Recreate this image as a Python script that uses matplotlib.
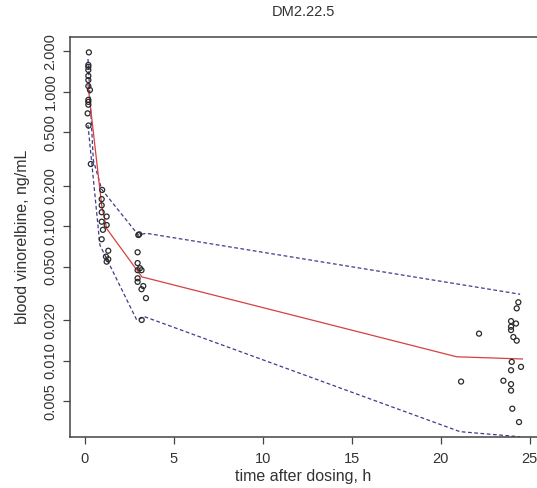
import numpy as np
import matplotlib
matplotlib.use('Agg')
import matplotlib.pyplot as plt
from matplotlib.ticker import FixedLocator, FixedFormatter

# observed concentrations (time h, ng/mL)
obs_time = [0.22, 0.19, 0.19, 0.19, 0.19, 0.19, 0.19, 0.28, 0.19, 0.19, 0.19, 0.15, 0.2, 0.33,
            0.97, 0.94, 0.94, 0.94, 1.22, 0.94, 1.22, 1.01, 0.94, 1.31, 1.18, 1.31, 1.22,
            3.0, 3.05, 2.96, 2.96, 3.09, 3.18, 2.96, 2.96, 2.96, 3.28, 3.18, 3.43, 3.19,
            24.37, 24.28, 23.96, 24.24, 23.96, 23.96, 24.09, 24.28, 22.16, 24.0, 24.52,
            23.96, 21.15, 23.53, 23.96, 23.96, 24.03, 24.41]
obs_conc = [1.96, 1.58, 1.53, 1.45, 1.31, 1.22, 1.10, 1.03, 0.87, 0.84, 0.80, 0.69, 0.56, 0.29,
            0.186, 0.159, 0.143, 0.127, 0.118, 0.108, 0.102, 0.094, 0.080, 0.0657, 0.0594, 0.0568, 0.0545,
            0.086, 0.087, 0.064, 0.0532, 0.0487, 0.0471, 0.0471, 0.041, 0.0386, 0.0359, 0.034, 0.0292, 0.0201,
            0.0272, 0.0245, 0.0197, 0.0189, 0.0179, 0.0169, 0.015, 0.0141, 0.0159, 0.0098, 0.009,
            0.0085, 0.007, 0.0071, 0.0067, 0.006, 0.0044, 0.0035]

# median and percentile lines
med_time = [0.17, 0.94, 1.22, 3.2, 20.9, 24.6]
med_conc = [1.12, 0.143, 0.096, 0.042, 0.0107, 0.0103]

hi_time = [0.17, 0.47, 0.94, 3.0, 3.45, 21.1, 24.47]
hi_conc = [1.75, 0.31, 0.188, 0.086, 0.0886, 0.0369, 0.0312]

lo_time = [0.17, 0.84, 2.91, 3.37, 21.09, 24.47]
lo_conc = [0.565, 0.0724, 0.0201, 0.0212, 0.00297, 0.00272]

ytick_vals = [0.005, 0.010, 0.020, 0.050, 0.100, 0.200, 0.500, 1.000, 2.000]
ytick_labels = ['0.005', '0.010', '0.020', '0.050', '0.100', '0.200', '0.500', '1.000', '2.000']
xtick_vals = [0, 5, 10, 15, 20, 25]

plt.rcParams['font.family'] = ['Liberation Sans', 'DejaVu Sans']

fig = plt.figure(figsize=(5.37, 4.88), dpi=100)
ax = fig.add_axes([0.1304, 0.1045, 0.8696, 0.8197])

ax.plot(lo_time, lo_conc, color='#3c3c8c', linestyle=(0, (3, 2)), linewidth=0.9)
ax.plot(hi_time, hi_conc, color='#3c3c8c', linestyle=(0, (3, 2)), linewidth=0.9)
ax.plot(med_time, med_conc, color='#d84040', linewidth=0.9)
ax.scatter(obs_time, obs_conc, s=13, facecolors='none', edgecolors='#2a2a2a', linewidths=0.9, zorder=3)

ax.set_yscale('log')
ax.set_xlim(-0.84, 25.42)
ax.set_ylim(0.00271, 2.55)
ax.yaxis.set_major_locator(FixedLocator(ytick_vals))
ax.yaxis.set_major_formatter(FixedFormatter(ytick_labels))
ax.yaxis.set_minor_locator(FixedLocator([]))
ax.set_xticks(xtick_vals)
ax.set_xticklabels([str(v) for v in xtick_vals])

for lbl in ax.get_yticklabels():
    lbl.set_rotation(90)
    lbl.set_va('center')

ax.tick_params(axis='both', direction='out', length=5, width=0.9, color='#444444',
               labelsize=10.5, labelcolor='#333333')
ax.tick_params(axis='x', pad=6)
ax.tick_params(axis='y', pad=4)

for side in ['left', 'bottom', 'top']:
    ax.spines[side].set_color('#444444')
    ax.spines[side].set_linewidth(1.1)
ax.spines['right'].set_visible(False)

ax.set_title('DM2.22.5', fontsize=10.5, color='#333333', pad=15)
ax.set_xlabel('time after dosing, h', fontsize=11.5, color='#333333', labelpad=2)
ax.set_ylabel('blood vinorelbine, ng/mL', fontsize=11.5, color='#333333', labelpad=10)

fig.savefig('out.png', dpi=100)
